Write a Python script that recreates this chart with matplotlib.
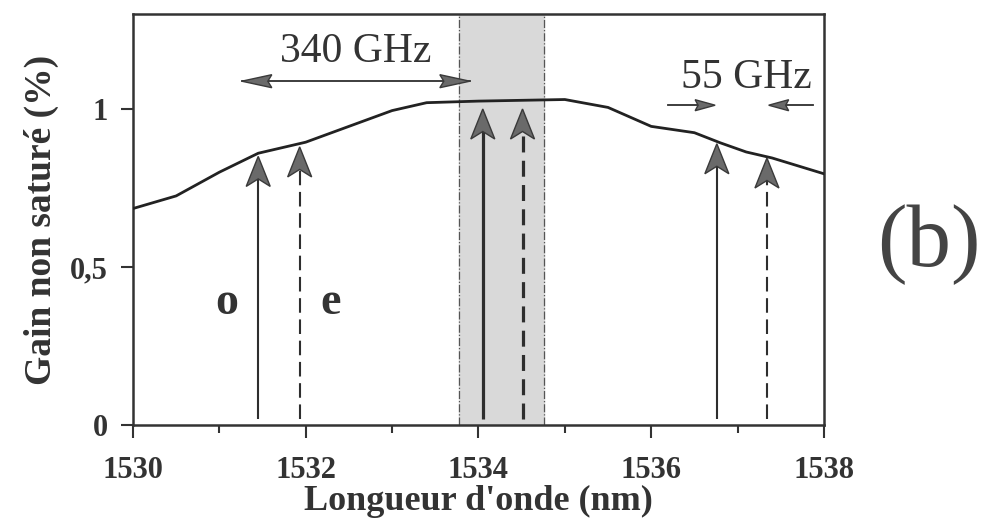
import matplotlib
matplotlib.use("Agg")
import matplotlib.pyplot as plt
from matplotlib.patches import Polygon
from matplotlib.transforms import ScaledTranslation

# gain curve
wavelength = [1530, 1530.5, 1531, 1531.45, 1532, 1532.5, 1533, 1533.4, 1534,
              1535, 1535.5, 1536, 1536.5, 1536.8, 1537.1, 1537.4, 1538]
gain = [0.685, 0.725, 0.80, 0.86, 0.895, 0.945, 0.995, 1.02, 1.025,
        1.03, 1.005, 0.945, 0.925, 0.893, 0.864, 0.845, 0.795]

# vertical arrows: position, tip height, dashed?, thick?
arrow_x = [1531.45, 1531.93, 1534.05, 1534.51, 1536.76, 1537.34]
arrow_top = [0.85, 0.88, 1.0, 1.0, 0.89, 0.845]
arrow_dashed = [False, True, False, True, False, True]
arrow_thick = [False, False, True, True, False, False]

band = [1533.78, 1534.76]
span_340 = [1531.26, 1533.9]
span_55 = [1536.76, 1537.34]
xticks = [1530, 1532, 1534, 1536, 1538]
yticks = [0, 0.5, 1]
ytick_labels = ["0", "0,5", "1"]

ink = "#333333"
head_fc = "#6a6a6a"
plt.rcParams["font.family"] = ["Liberation Serif", "DejaVu Serif"]

fig = plt.figure(figsize=(9.85, 5.26), dpi=100)
ax = fig.add_axes([0.135, 0.192, 0.7015, 0.781])


def head(x, y, direction, length, half_w, notch, lw=1.0):
    # notched arrow head drawn in inches around the tip (x, y) in data units
    trans = fig.dpi_scale_trans + ScaledTranslation(x, y, ax.transData)
    shape = [(0, 0), (-half_w, -length), (0, -length + notch), (half_w, -length)]
    if direction == "left":
        shape = [(-b, a) for a, b in shape]
    elif direction == "right":
        shape = [(b, a) for a, b in shape]
    ax.add_patch(Polygon(shape, closed=True, transform=trans, fc=head_fc,
                         ec="#3a3a3a", lw=lw, zorder=5, clip_on=False))


ax.axvspan(band[0], band[1], color="#d9d9d9", zorder=0)
for b in band:
    ax.axvline(b, color="#555555", lw=0.9, ls="-.", zorder=1)

ax.plot(wavelength, gain, color="#222222", lw=2.0, zorder=3)

for x, top, dashed, thick in zip(arrow_x, arrow_top, arrow_dashed, arrow_thick):
    lw = 2.3 if thick else 1.5
    line, = ax.plot([x, x], [0.02, top - 0.04], color="#2e2e2e", lw=lw, zorder=4,
                    solid_capstyle="butt")
    if dashed:
        line.set_dashes((7, 3.2) if not thick else (5, 2.6))
    head(x, top, "up", 0.30, 0.12, 0.075)

# 340 GHz span
ax.plot(span_340, [1.088, 1.088], color="#2e2e2e", lw=1.3, zorder=4)
head(span_340[0], 1.088, "left", 0.30, 0.065, 0.04)
head(span_340[1], 1.088, "right", 0.30, 0.065, 0.04)
ax.text(sum(span_340) / 2, 1.18, "340 GHz", ha="center", va="center", fontsize=30, color=ink)

# 55 GHz arrows pointing inwards
ax.plot([1536.19, span_55[0] - 0.1], [1.012, 1.012], color="#2e2e2e", lw=1.3, zorder=4)
ax.plot([span_55[1] + 0.1, 1537.87], [1.012, 1.012], color="#2e2e2e", lw=1.3, zorder=4)
head(span_55[0] - 0.02, 1.012, "right", 0.2, 0.055, 0.03)
head(span_55[1] + 0.02, 1.012, "left", 0.2, 0.055, 0.03)
ax.text(1537.1, 1.1, "55 GHz", ha="center", va="center", fontsize=30, color=ink)

ax.text(1531.08, 0.385, "o", ha="center", va="center", fontsize=33,
        fontweight="bold", color=ink)
ax.text(1532.29, 0.385, "e", ha="center", va="center", fontsize=33,
        fontweight="bold", color=ink)

fig.text(0.943, 0.535, "(b)", ha="center", va="center", fontsize=64, color="#444444")

ax.set_xlim(1530, 1538)
ax.set_ylim(0, 1.3)
ax.set_xticks(xticks)
ax.set_xticks([1531, 1533, 1535, 1537], minor=True)
ax.set_yticks(yticks)
ax.set_yticklabels(ytick_labels)
ax.tick_params(axis="both", which="major", direction="out", length=9, width=1.5,
               color=ink, labelcolor=ink, labelsize=22)
ax.tick_params(axis="x", which="major", pad=13)
ax.tick_params(axis="y", which="major", pad=9)
ax.tick_params(axis="x", which="minor", direction="out", length=6, width=1.5, color=ink)
for lab in ax.get_xticklabels() + ax.get_yticklabels():
    lab.set_fontweight("bold")
for s in ax.spines.values():
    s.set_linewidth(1.8)
    s.set_color(ink)

ax.set_xlabel("Longueur d'onde (nm)", fontsize=26, fontweight="bold", color=ink, labelpad=0)
ax.set_ylabel("Gain non saturé (%)", fontsize=27, fontweight="bold", color=ink, labelpad=8)

fig.savefig("out.png", dpi=100)
